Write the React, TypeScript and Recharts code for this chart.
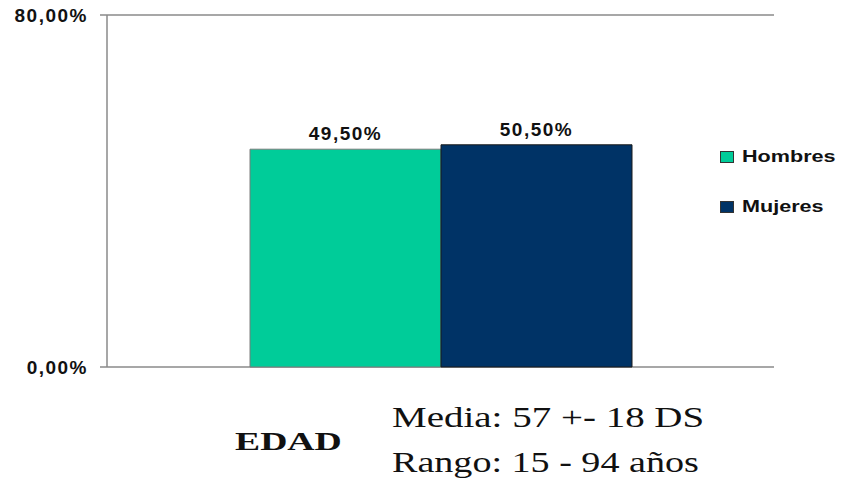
import { Bar, BarChart, CartesianGrid, LabelList, XAxis, YAxis } from 'recharts';

const categories = ['EDAD'];
const hombres = [49.5];
const mujeres = [50.5];
const yTicks = [0, 80];

const seriesInfo = [
  { key: 'hombres', name: 'Hombres', color: '#00CC99', stroke: '#7a7a7a' },
  { key: 'mujeres', name: 'Mujeres', color: '#003366', stroke: '#1a1a1a' },
];

const data = categories.map((cat, i) => ({
  cat,
  hombres: hombres[i],
  mujeres: mujeres[i],
}));

const pct = (v: number) => `${v.toFixed(2).replace('.', ',')}%`;

const sans = '"Liberation Sans", Arial, sans-serif';
const serif = '"Liberation Serif", "Times New Roman", serif';

function LegendBox() {
  return (
    <div style={{ position: 'absolute', left: 720, top: 145 }}>
      {seriesInfo.map((s, i) => (
        <div
          key={s.key}
          style={{ display: 'flex', alignItems: 'center', height: 24, marginBottom: i === 0 ? 26 : 0 }}
        >
          <span
            style={{
              display: 'inline-block',
              width: 14,
              height: 12,
              background: s.color,
              border: '1px solid #333',
              boxSizing: 'border-box',
              marginRight: 8,
            }}
          />
          <span
            style={{
              fontFamily: sans,
              fontWeight: 'bold',
              fontSize: 17,
              color: '#111',
              display: 'inline-block',
              transform: 'scaleX(1.27)',
              transformOrigin: 'left center',
              whiteSpace: 'nowrap',
            }}
          >
            {s.name}
          </span>
        </div>
      ))}
    </div>
  );
}

export default function App() {
  return (
    <div style={{ position: 'absolute', left: 0, top: 0, width: 844, height: 483, background: '#fff' }}>
      <BarChart
        width={844}
        height={483}
        data={data}
        margin={{ top: 15, right: 70, left: 0, bottom: 116 }}
        barCategoryGap={143}
        barGap={0}
      >
        <CartesianGrid vertical={false} stroke="#8a8a8a" strokeWidth={1.5} />
        <XAxis dataKey="cat" tick={false} height={0} axisLine={{ stroke: '#8a8a8a', strokeWidth: 1.5 }} tickLine={false} />
        <YAxis
          width={107}
          domain={[0, 80]}
          ticks={yTicks}
          tickFormatter={pct}
          tickSize={7}
          tickMargin={12}
          axisLine={{ stroke: '#8a8a8a', strokeWidth: 1.5 }}
          tickLine={{ stroke: '#8a8a8a', strokeWidth: 1.5 }}
          tick={{ fontFamily: sans, fontWeight: 'bold', fontSize: 19, fill: '#111', letterSpacing: 1.5 }}
        />
        {seriesInfo.map((s) => (
          <Bar key={s.key} dataKey={s.key} name={s.name} fill={s.color} stroke={s.stroke} strokeWidth={1} isAnimationActive={false}>
            <LabelList
              dataKey={s.key}
              position="top"
              offset={9}
              formatter={(v: number) => pct(v)}
              style={{ fontFamily: sans, fontWeight: 'bold', fontSize: 19, fill: '#111', letterSpacing: 1.5 }}
            />
          </Bar>
        ))}
      </BarChart>
      <LegendBox />
      <svg width={844} height={483} style={{ position: 'absolute', left: 0, top: 0, pointerEvents: 'none' }}>
        <text transform="translate(235,450) scale(1.45,1)" fontFamily={serif} fontWeight="bold" fontSize={26} fill="#111">
          EDAD
        </text>
        <text transform="translate(392,427) scale(1.3,1)" fontFamily={serif} fontSize={30} fill="#111">
          Media: 57 +- 18 DS
        </text>
        <text transform="translate(392,472) scale(1.27,1)" fontFamily={serif} fontSize={30} fill="#111">
          Rango: 15 - 94 años
        </text>
      </svg>
    </div>
  );
}
